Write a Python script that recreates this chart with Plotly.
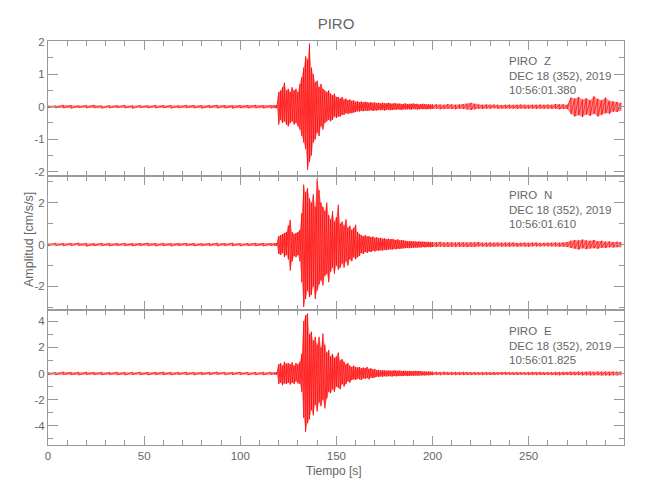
import numpy as np
import plotly.graph_objects as go
from plotly.subplots import make_subplots

# ---------------- data ----------------
station = "PIRO"
components = ["Z", "N", "E"]
date_label = "DEC 18 (352), 2019"
start_times = ["10:56:01.380", "10:56:01.610", "10:56:01.825"]

# time grids (s): quiet pre-event, event window, coda
t_quiet = np.arange(0, 120, 4)
t_event = np.arange(118, 200, 1)
t_coda = np.arange(200, 300, 2)

# ---- Z component (envelope maxima / minima, cm/s/s) ----
z_quiet_hi = [0.04,0.03,0.05,0.04,0.03,0.04,0.05,0.03,0.04,0.04,
              0.05,0.03,0.04,0.03,0.05,0.04,0.04,0.03,0.05,0.04,
              0.03,0.04,0.05,0.04,0.03,0.04,0.04,0.05,0.03,0.04]
z_quiet_lo = [-0.03,-0.04,-0.04,-0.05,-0.03,-0.04,-0.03,-0.05,-0.04,-0.03,
              -0.04,-0.05,-0.03,-0.04,-0.04,-0.03,-0.05,-0.04,-0.03,-0.04,
              -0.05,-0.03,-0.04,-0.04,-0.05,-0.03,-0.04,-0.03,-0.04,-0.05]
z_event_hi = [0.04,0.05,0.45,0.50,0.60,0.74,0.50,0.55,0.45,0.60,
              0.50,0.55,0.45,0.70,0.90,1.20,1.55,1.45,1.94,1.20,
              1.00,0.75,0.80,0.60,0.70,0.55,0.50,0.45,0.50,0.40,
              0.35,0.40,0.30,0.30,0.25,0.30,0.22,0.25,0.20,0.22,
              0.18,0.20,0.15,0.17,0.14,0.16,0.13,0.15,0.14,0.12,
              0.14,0.12,0.13,0.11,0.12,0.10,0.12,0.11,0.10,0.12,
              0.10,0.09,0.11,0.10,0.09,0.10,0.08,0.09,0.10,0.08,
              0.09,0.08,0.10,0.08,0.09,0.07,0.08,0.09,0.08,0.07,
              0.08,0.07]
z_event_lo = [-0.04,-0.05,-0.55,-0.40,-0.50,-0.45,-0.55,-0.60,-0.50,-0.45,
              -0.55,-0.50,-0.60,-0.70,-0.90,-1.10,-1.30,-1.94,-1.70,-1.50,
              -1.10,-1.00,-0.80,-0.90,-0.60,-0.70,-0.50,-0.45,-0.40,-0.45,
              -0.40,-0.30,-0.35,-0.30,-0.30,-0.25,-0.25,-0.20,-0.22,-0.20,
              -0.20,-0.18,-0.16,-0.14,-0.15,-0.13,-0.14,-0.12,-0.13,-0.12,
              -0.11,-0.13,-0.11,-0.12,-0.10,-0.11,-0.10,-0.12,-0.10,-0.09,
              -0.11,-0.10,-0.09,-0.10,-0.08,-0.09,-0.10,-0.08,-0.09,-0.08,
              -0.08,-0.09,-0.07,-0.08,-0.09,-0.08,-0.07,-0.08,-0.07,-0.08,
              -0.07,-0.08]
z_coda_hi = [0.07,0.08,0.07,0.06,0.08,0.07,0.06,0.07,0.08,0.09,
             0.12,0.09,0.07,0.06,0.07,0.06,0.07,0.06,0.05,0.06,
             0.06,0.05,0.06,0.07,0.06,0.05,0.06,0.06,0.07,0.06,
             0.07,0.06,0.08,0.07,0.08,0.06,0.28,0.25,0.30,0.22,
             0.26,0.20,0.32,0.24,0.20,0.28,0.18,0.16,0.15,0.12]
z_coda_lo = [-0.07,-0.06,-0.08,-0.07,-0.06,-0.07,-0.08,-0.06,-0.07,-0.08,
             -0.10,-0.08,-0.06,-0.07,-0.06,-0.07,-0.05,-0.06,-0.06,-0.05,
             -0.05,-0.06,-0.07,-0.05,-0.06,-0.06,-0.05,-0.07,-0.06,-0.06,
             -0.06,-0.07,-0.06,-0.08,-0.07,-0.07,-0.22,-0.30,-0.26,-0.32,
             -0.24,-0.28,-0.22,-0.30,-0.25,-0.20,-0.22,-0.15,-0.16,-0.12]

# ---- N component ----
n_quiet_hi = [0.06,0.07,0.05,0.06,0.08,0.06,0.05,0.07,0.06,0.06,
              0.07,0.05,0.06,0.08,0.06,0.07,0.05,0.06,0.07,0.06,
              0.05,0.06,0.07,0.06,0.08,0.05,0.06,0.07,0.06,0.06]
n_quiet_lo = [-0.06,-0.05,-0.07,-0.06,-0.05,-0.08,-0.06,-0.06,-0.07,-0.05,
              -0.06,-0.07,-0.05,-0.06,-0.07,-0.06,-0.08,-0.05,-0.06,-0.07,
              -0.06,-0.05,-0.07,-0.06,-0.06,-0.07,-0.05,-0.06,-0.07,-0.06]
n_event_hi = [0.06,0.07,0.40,0.45,0.50,0.55,0.60,0.90,1.18,0.60,
              0.50,0.55,0.60,0.70,1.50,2.86,2.50,2.70,2.20,2.00,
              2.40,1.80,3.13,2.60,2.00,1.80,1.60,2.00,1.40,1.20,
              1.60,1.10,1.30,1.90,1.00,1.10,0.90,1.20,0.80,0.90,
              0.70,0.80,0.95,0.60,0.50,0.45,0.40,0.45,0.38,0.40,
              0.35,0.38,0.32,0.35,0.30,0.32,0.28,0.30,0.26,0.28,
              0.25,0.27,0.24,0.22,0.25,0.20,0.22,0.19,0.18,0.17,
              0.16,0.17,0.15,0.16,0.14,0.15,0.13,0.14,0.13,0.12,
              0.13,0.12]
n_event_lo = [-0.06,-0.07,-0.45,-0.50,-0.40,-0.60,-0.50,-0.70,-1.24,-0.80,
              -0.55,-0.60,-0.50,-0.80,-1.80,-2.98,-2.60,-2.20,-2.50,-2.40,
              -2.00,-2.60,-2.20,-1.90,-1.70,-1.95,-1.50,-1.40,-1.80,-1.30,
              -1.10,-1.40,-1.00,-1.20,-1.10,-0.90,-1.10,-0.80,-1.00,-0.70,
              -0.80,-0.60,-0.70,-0.60,-0.55,-0.40,-0.45,-0.35,-0.40,-0.33,
              -0.36,-0.30,-0.33,-0.28,-0.30,-0.27,-0.29,-0.25,-0.27,-0.24,
              -0.23,-0.25,-0.21,-0.23,-0.20,-0.21,-0.19,-0.18,-0.17,-0.16,
              -0.17,-0.15,-0.16,-0.14,-0.15,-0.13,-0.14,-0.12,-0.13,-0.12,
              -0.12,-0.13]
n_coda_hi = [0.12,0.11,0.13,0.10,0.12,0.11,0.10,0.12,0.11,0.10,
             0.11,0.10,0.12,0.09,0.10,0.11,0.09,0.10,0.09,0.10,
             0.09,0.10,0.08,0.09,0.10,0.08,0.09,0.10,0.08,0.09,
             0.09,0.08,0.10,0.09,0.10,0.12,0.18,0.22,0.20,0.24,
             0.20,0.18,0.22,0.16,0.18,0.14,0.15,0.12,0.13,0.12]
n_coda_lo = [-0.11,-0.12,-0.10,-0.12,-0.11,-0.10,-0.12,-0.10,-0.11,-0.12,
             -0.10,-0.11,-0.09,-0.10,-0.11,-0.09,-0.10,-0.09,-0.10,-0.09,
             -0.10,-0.09,-0.10,-0.08,-0.09,-0.10,-0.08,-0.09,-0.10,-0.08,
             -0.08,-0.09,-0.09,-0.10,-0.09,-0.11,-0.16,-0.20,-0.24,-0.18,
             -0.22,-0.19,-0.17,-0.20,-0.15,-0.16,-0.13,-0.14,-0.12,-0.13]

# ---- E component ----
e_quiet_hi = [0.10,0.08,0.12,0.09,0.10,0.11,0.08,0.10,0.09,0.12,
              0.10,0.09,0.11,0.08,0.10,0.12,0.09,0.10,0.11,0.08,
              0.10,0.09,0.12,0.10,0.08,0.11,0.10,0.09,0.10,0.11]
e_quiet_lo = [-0.09,-0.11,-0.08,-0.10,-0.12,-0.09,-0.10,-0.11,-0.08,-0.10,
              -0.11,-0.09,-0.10,-0.12,-0.08,-0.10,-0.11,-0.09,-0.10,-0.12,
              -0.09,-0.10,-0.08,-0.11,-0.10,-0.09,-0.12,-0.10,-0.11,-0.09]
e_event_hi = [0.08,0.10,0.70,0.80,0.60,0.90,0.75,0.80,0.70,0.85,
              0.60,0.80,0.70,0.90,1.50,4.00,4.45,4.58,3.00,3.20,
              2.50,2.80,2.20,2.80,2.00,3.05,2.20,1.60,1.80,1.30,
              1.50,1.20,1.30,1.60,1.00,1.10,0.90,0.70,0.80,0.60,
              0.50,0.60,0.50,0.45,0.50,0.40,0.45,0.40,0.50,0.35,
              0.40,0.30,0.35,0.25,0.28,0.22,0.25,0.24,0.20,0.23,
              0.22,0.20,0.24,0.21,0.20,0.23,0.19,0.21,0.20,0.18,
              0.20,0.19,0.18,0.20,0.17,0.19,0.18,0.15,0.16,0.14,
              0.15,0.14]
e_event_lo = [-0.08,-0.10,-0.80,-0.70,-0.90,-0.75,-0.80,-0.70,-0.85,-0.70,
              -0.80,-0.60,-0.75,-0.80,-1.40,-3.40,-4.46,-3.80,-3.50,-2.80,
              -3.20,-2.40,-2.90,-2.20,-2.50,-2.00,-2.67,-1.90,-1.40,-1.50,
              -1.20,-1.40,-1.00,-1.10,-1.20,-0.80,-1.00,-0.80,-0.60,-0.70,
              -0.50,-0.45,-0.50,-0.40,-0.45,-0.50,-0.38,-0.40,-0.35,-0.45,
              -0.30,-0.35,-0.30,-0.24,-0.26,-0.22,-0.25,-0.21,-0.23,-0.20,
              -0.21,-0.23,-0.19,-0.22,-0.20,-0.18,-0.21,-0.19,-0.17,-0.20,
              -0.18,-0.17,-0.19,-0.16,-0.18,-0.15,-0.16,-0.14,-0.15,-0.13,
              -0.14,-0.13]
e_coda_hi = [0.13,0.12,0.11,0.13,0.10,0.12,0.11,0.10,0.12,0.11,
             0.10,0.11,0.09,0.10,0.11,0.09,0.10,0.09,0.10,0.11,
             0.10,0.09,0.11,0.10,0.09,0.10,0.11,0.10,0.12,0.10,
             0.11,0.10,0.12,0.11,0.13,0.12,0.14,0.13,0.15,0.12,
             0.14,0.15,0.13,0.16,0.14,0.15,0.13,0.16,0.14,0.15]
e_coda_lo = [-0.12,-0.11,-0.13,-0.10,-0.12,-0.11,-0.12,-0.10,-0.11,-0.10,
             -0.11,-0.09,-0.10,-0.11,-0.09,-0.10,-0.11,-0.09,-0.10,-0.09,
             -0.09,-0.10,-0.11,-0.09,-0.10,-0.11,-0.10,-0.12,-0.10,-0.11,
             -0.10,-0.12,-0.11,-0.13,-0.12,-0.11,-0.13,-0.14,-0.12,-0.14,
             -0.13,-0.15,-0.14,-0.13,-0.15,-0.14,-0.16,-0.13,-0.15,-0.14]

# y-axis ticks per panel
y_ranges = [[-2.12, 2.02], [-3.14, 3.29], [-5.47, 4.83]]
y_tickvals = [[-2, -1, 0, 1, 2], [-2, 0, 2], [-4, -2, 0, 2, 4]]
y_ticktext = [["-2", "-1", "0", "1", "2"], ["-2", "0", "2"], ["-4", "-2", "0", "2", "4"]]
y_minor = [0.5, 1, 1]
x_tickvals = [0, 50, 100, 150, 200, 250]

# ---------------- figure ----------------
FONT = "Liberation Sans, Arial, sans-serif"
TXT = "#666666"
AX = "#999999"
FS = 11.5

t_all = np.concatenate([t_quiet, t_event, t_coda])
channels = [
    (z_quiet_hi + z_event_hi + z_coda_hi, z_quiet_lo + z_event_lo + z_coda_lo),
    (n_quiet_hi + n_event_hi + n_coda_hi, n_quiet_lo + n_event_lo + n_coda_lo),
    (e_quiet_hi + e_event_hi + e_coda_hi, e_quiet_lo + e_event_lo + e_coda_lo),
]

fig = make_subplots(rows=3, cols=1, shared_xaxes=True, vertical_spacing=0)

for i, (hi, lo) in enumerate(channels):
    r = i + 1
    # envelope fill
    fig.add_trace(go.Scatter(x=t_all, y=hi, mode="lines", line=dict(width=0),
                             showlegend=False, hoverinfo="skip"), row=r, col=1)
    fig.add_trace(go.Scatter(x=t_all, y=lo, mode="lines", line=dict(width=0),
                             fill="tonexty", fillcolor="rgba(255,40,40,0.55)",
                             showlegend=False, hoverinfo="skip"), row=r, col=1)
    # oscillating trace between the envelope extremes
    xs = np.repeat(t_all, 2)
    ys = np.empty(2 * len(hi))
    ys[0::2] = hi
    ys[1::2] = lo
    fig.add_trace(go.Scatter(x=xs, y=ys, mode="lines",
                             line=dict(color="#ff0000", width=0.7),
                             showlegend=False, hoverinfo="skip"),
                  row=r, col=1)

for i in range(3):
    fig.update_yaxes(row=i + 1, col=1, range=y_ranges[i],
                     tickmode="array", tickvals=y_tickvals[i], ticktext=y_ticktext[i],
                     ticks="inside", ticklen=10, tickcolor=AX, tickwidth=1,
                     minor=dict(dtick=y_minor[i], tick0=0, ticks="inside",
                                ticklen=5, tickcolor=AX),
                     showline=True, linecolor=AX, linewidth=1, mirror="ticks",
                     showgrid=False, zeroline=False,
                     tickfont=dict(family=FONT, size=FS, color=TXT))
    fig.update_xaxes(row=i + 1, col=1, range=[0, 299.6],
                     tickmode="array", tickvals=x_tickvals,
                     ticks="inside", ticklen=9, tickcolor=AX, tickwidth=1,
                     minor=dict(dtick=10, tick0=0, ticks="inside",
                                ticklen=5, tickcolor=AX),
                     showline=True, linecolor=AX, linewidth=1, mirror="ticks",
                     showgrid=False, zeroline=False,
                     showticklabels=(i == 2),
                     tickfont=dict(family=FONT, size=FS, color=TXT))

annotations = []
# per-panel header text (three lines each); positions in screen pixels
panel_line_y = [[61, 76, 90], [195, 210, 224.3], [331, 345.7, 360]]
plot_top, plot_bottom, plot_left, plot_w = 41.0, 445.0, 48.0, 576.0


def px_x(x):
    return (x - plot_left) / plot_w


def px_y(y):
    return (plot_bottom - y) / (plot_bottom - plot_top)


for i in range(3):
    lines = [station, date_label, start_times[i]]
    for j, txt in enumerate(lines):
        annotations.append(dict(
            text=txt, xref="paper", yref="paper",
            x=px_x(507), y=px_y(panel_line_y[i][j]),
            xanchor="left", yanchor="middle", showarrow=False,
            font=dict(family=FONT, size=FS, color=TXT)))
    annotations.append(dict(
        text=components[i], xref="paper", yref="paper",
        x=px_x(541.5), y=px_y(panel_line_y[i][0]),
        xanchor="left", yanchor="middle", showarrow=False,
        font=dict(family=FONT, size=FS, color=TXT)))

annotations.append(dict(text="Amplitud [cm/s/s]", xref="paper", yref="paper",
                        x=px_x(29), y=px_y(240), textangle=-90,
                        xanchor="center", yanchor="middle", showarrow=False,
                        font=dict(family=FONT, size=12.5, color=TXT)))
annotations.append(dict(text="Tiempo [s]", xref="paper", yref="paper",
                        x=px_x(334), y=px_y(471),
                        xanchor="center", yanchor="middle", showarrow=False,
                        font=dict(family=FONT, size=12, color=TXT)))

# the page body adds an 8 px offset, so the figure is 642x492
fig.update_layout(
    width=642, height=492,
    margin=dict(l=40, r=26, t=33, b=55),
    paper_bgcolor="white", plot_bgcolor="white",
    title=dict(text=station, x=0.5, xref="paper", xanchor="center",
               y=1 - 15.5 / 492, yref="container", yanchor="middle",
               font=dict(family=FONT, size=15, color=TXT)),
    annotations=annotations,
    showlegend=False,
)

fig.write_html("out.html")
